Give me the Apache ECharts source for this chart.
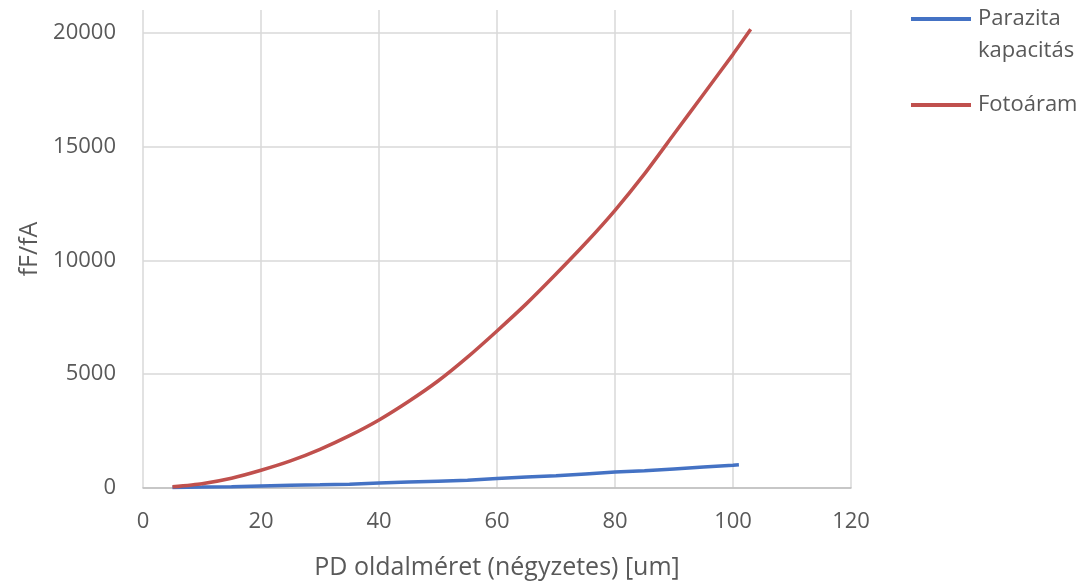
<!DOCTYPE html>
<html>
<head>
<meta charset="utf-8">
<script src="https://cdn.jsdelivr.net/npm/echarts@6/dist/echarts.min.js"></script>
<style>
  html, body { margin: 0; padding: 0; background: #fff; }
  #chart { width: 1084px; height: 584px; }
</style>
</head>
<body>
<div id="chart"></div>
<script>
// PD side length [um]
const sizesRed = [5, 10, 15, 20, 25, 30, 35, 40, 45, 50, 55, 60, 65, 70, 75, 80, 85, 90, 95, 100, 103]
const fotoaram = [50, 190, 430, 780, 1190, 1700, 2300, 2990, 3800, 4700, 5750, 6900, 8100, 9400, 10750, 12200, 13800, 15550, 17300, 19050, 20150]

const sizesBlue = [5, 10, 15, 20, 25, 30, 35, 40, 45, 50, 55, 60, 65, 70, 75, 80, 85, 90, 95, 100, 101]
const parazita = [25, 40, 60, 90, 120, 140, 170, 220, 260, 300, 340, 420, 480, 540, 620, 700, 760, 840, 920, 1000, 1020]

const seriesNames = ['Parazita kapacitás', 'Fotoáram']
const xTitle = 'PD oldalméret (négyzetes) [um]'
const yTitle = 'fF/fA'

const textColor = '#595959'
const gridColor = '#d9d9d9'
const font = 'Open Sans'

let myChart = echarts.init(document.getElementById('chart'))

const pairs = (xs, ys) => xs.map((x, i) => [x, ys[i]])

let option = {
    animation: false,
    textStyle: { fontFamily: font },
    grid: {
        left: 143,
        right: 233,
        top: 10,
        bottom: 96,
        outerBoundsMode: 'none',
    },
    legend: {
        orient: 'vertical',
        left: 911,
        top: -24,
        padding: 0,
        icon: 'rect',
        itemWidth: 60,
        itemHeight: 4,
        itemGap: 27,
        data: seriesNames,
        formatter: (name) => name === 'Parazita kapacitás' ? '{two|Parazita\nkapacitás}' : name,
        textStyle: {
            fontFamily: font,
            fontSize: 22,
            color: textColor,
            lineHeight: 32,
            padding: [0, 0, 0, 2],
            rich: {
                two: {
                    fontFamily: font,
                    fontSize: 22,
                    color: textColor,
                    lineHeight: 32,
                    padding: [32, 0, 0, 0],
                },
            },
        },
    },
    xAxis: {
        type: 'value',
        min: 0,
        max: 120,
        interval: 20,
        name: xTitle,
        nameLocation: 'middle',
        nameGap: 67,
        nameTextStyle: { fontSize: 25, color: textColor, fontFamily: font },
        axisLine: { show: true, lineStyle: { color: '#bfbfbf', width: 1.5 } },
        axisTick: { show: false },
        axisLabel: { fontSize: 22, color: textColor, margin: 23 },
        splitLine: { show: true, lineStyle: { color: gridColor, width: 1.5 } },
    },
    yAxis: {
        type: 'value',
        min: 0,
        max: 21000,
        interval: 5000,
        name: yTitle,
        nameLocation: 'middle',
        nameGap: 101,
        nameTextStyle: { fontSize: 25, color: textColor, fontFamily: font },
        axisLine: { show: false },
        axisTick: { show: false },
        axisLabel: {
            fontSize: 22,
            color: textColor,
            margin: 27,
            showMaxLabel: false,
            formatter: (v) => String(v),
        },
        splitLine: { show: true, showMaxLine: false, lineStyle: { color: gridColor, width: 1.5 } },
    },
    series: [
        {
            name: seriesNames[0],
            type: 'line',
            color: '#4472c4',
            data: pairs(sizesBlue, parazita),
            showSymbol: false,
            lineStyle: { width: 3.5 },
            z: 3,
        },
        {
            name: seriesNames[1],
            type: 'line',
            color: '#c0504d',
            data: pairs(sizesRed, fotoaram),
            showSymbol: false,
            smooth: 0.2,
            lineStyle: { width: 3.5 },
            z: 4,
        },
    ],
}
myChart.setOption(option)
</script>
</body>
</html>
